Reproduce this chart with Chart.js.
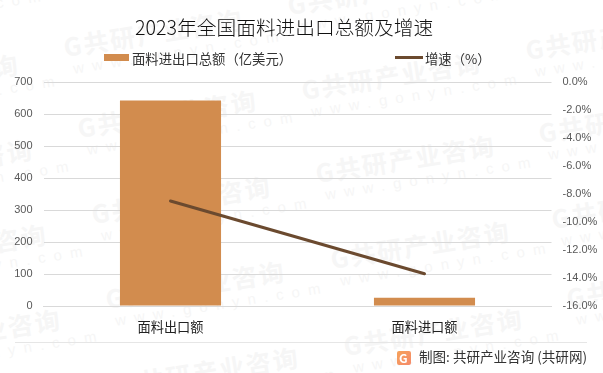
<!DOCTYPE html>
<html>
<head>
<meta charset="utf-8">
<script src="https://cdn.jsdelivr.net/npm/chart.js@4"></script>
<style>
html,body{margin:0;padding:0;background:#fff;width:603px;height:373px;overflow:hidden;font-family:"Noto Sans CJK SC",sans-serif}
#wrap{position:relative;width:603px;height:373px}
#myChart{position:absolute;left:0;top:0}
.t{position:absolute;white-space:nowrap;line-height:1}
.mark{position:absolute;white-space:nowrap;color:#f6f6f6;font-weight:700;font-size:25px;letter-spacing:2px;line-height:1;transform:rotate(-9deg);transform-origin:left center}
.mark small{display:block;font-weight:400;font-size:15px;letter-spacing:8.2px;margin:3px 0 0 6px;font-family:"Liberation Sans"}
</style>
</head>
<body>
<div id="wrap">
<canvas id="myChart" width="603" height="373"></canvas>
<div class="t" style="left:135px;top:17px;font-size:19.7px;font-weight:300;color:#111">2023年全国面料进出口总额及增速</div>
<div style="position:absolute;left:104px;top:54px;width:25px;height:7px;background:#d28c4e"></div>
<div class="t" style="left:132px;top:52px;font-size:13.35px;color:#333">面料进出口总额（亿美元）</div>
<div style="position:absolute;left:395px;top:56px;width:28px;height:3px;background:#6b4a2f"></div>
<div class="t" style="left:425px;top:52px;font-size:13.35px;color:#333">增速（%）</div>
<div style="position:absolute;left:15px;top:342px;width:572px;height:1px;background:#e6e6e6"></div>
<div style="position:absolute;left:397px;top:351px;width:14px;height:14px;border-radius:2px;background:linear-gradient(135deg,#f6a25a,#f58a6a)"></div>
<div class="t" style="left:399px;top:352px;font-size:12px;font-weight:700;color:#fff">G</div>
<div class="t" style="left:419px;top:350px;font-size:13.55px;color:#333">制图: 共研产业咨询 (共研网)</div>
</div>
<script>
const CATEGORIES = ['面料出口额', '面料进口额']
const TOTAL_VALUES = [642, 26]
const GROWTH_VALUES = [-8.5, -13.7]
const LEFT_MAX = 700
const LEFT_STEP = 100
const RIGHT_MIN = -16
const RIGHT_STEP = 2
const WATERMARK_SPOTS = [
	[-173,7],[-159,92],[-145,177],[-131,262],[-117,347],
	[65,47],[79,128],[93,214],[107,299],[121,385],
	[289,5],[303,90],[317,173],[332,259],[345,346],
	[527,50],[540,133],[553,219],[568,298]
]

// watermarks sit behind the chart
var wrap = document.getElementById('wrap')
WATERMARK_SPOTS.forEach(function(p){
	var d = document.createElement('div')
	d.className = 'mark'
	d.style.left = p[0] + 'px'
	d.style.top = (p[1] - 13) + 'px'
	d.innerHTML = 'G共研产业咨询<small>www.gonyn.com</small>'
	wrap.insertBefore(d, wrap.firstChild)
})

var ctx = document.getElementById('myChart').getContext('2d')
var myChart = new Chart(ctx, {
	data: {
		labels: CATEGORIES,
		datasets: [{
			type: 'line',
			label: '增速（%）',
			data: GROWTH_VALUES,
			yAxisID: 'y1',
			borderColor: '#6b4a2f',
			borderWidth: 3,
			borderCapStyle: 'round',
			pointRadius: 0,
			order: 0
		}, {
			type: 'bar',
			label: '面料进出口总额（亿美元）',
			data: TOTAL_VALUES,
			yAxisID: 'y',
			backgroundColor: '#d28c4e',
			categoryPercentage: 0.398,
			barPercentage: 1,
			order: 1
		}]
	},
	options: {
		responsive: false,
		animation: false,
		layout: {padding: {top: 82, right: 0, bottom: 0, left: 0}},
		plugins: {legend: {display: false}, tooltip: {enabled: false}},
		scales: {
			x: {
				grid: {display: false},
				border: {color: '#d9d9d9'},
				ticks: {color: '#222', font: {size: 13.2, family: '"Noto Sans CJK SC"'}, padding: 5},
				afterFit: function(s){s.height = 67}
			},
			y: {
				position: 'left',
				min: 0,
				max: LEFT_MAX,
				ticks: {stepSize: LEFT_STEP, color: '#595959', font: {size: 11, family: '"Liberation Sans"'}, padding: 11},
				grid: {color: '#d9d9d9', drawTicks: false},
				border: {display: false},
				afterFit: function(s){s.width = 43.5}
			},
			y1: {
				position: 'right',
				min: RIGHT_MIN,
				max: 0,
				ticks: {stepSize: RIGHT_STEP, color: '#595959', font: {size: 11, family: '"Liberation Sans"'}, padding: 11,
					callback: function(v){return v.toFixed(1) + '%'}},
				grid: {display: false, drawTicks: false},
				border: {display: false},
				afterFit: function(s){s.width = 51.5}
			}
		}
	}
})
</script>
</body>
</html>
